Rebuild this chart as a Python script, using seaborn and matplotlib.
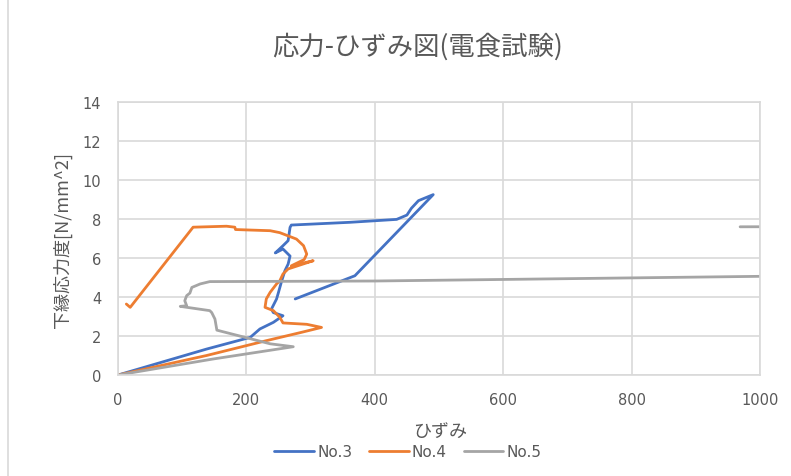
import matplotlib
matplotlib.use("Agg")
import matplotlib.pyplot as plt
from matplotlib.lines import Line2D
import pandas as pd
import seaborn as sns

# Stress-strain data for the three electrolytic corrosion specimens
series_names = ["No.3", "No.4", "No.5"]
series_colors = ["#4472C4", "#ED7D31", "#A5A5A5"]

no3_strain = [0, 138, 206, 221, 242, 257, 242, 239, 247, 250, 255, 260, 265, 268,
              257, 245, 257, 265, 268, 270, 361, 434, 450, 457, 468, 491, 369, 276]
no3_stress = [0, 1.33, 1.93, 2.36, 2.70, 3.04, 3.20, 3.38, 3.90, 4.24, 4.83, 5.35, 5.69, 6.10,
              6.46, 6.26, 6.63, 6.89, 7.57, 7.69, 7.83, 7.98, 8.20, 8.55, 8.94, 9.25, 5.09, 3.90]

no4_strain = [0, 138, 231, 286, 317, 294, 257, 252, 242, 229, 231, 237, 247, 252, 257, 265,
              304, 270, 290, 294, 289, 278, 252, 237, 200, 183, 182, 169, 117, 19, 13]
no4_stress = [0, 1.00, 1.76, 2.19, 2.44, 2.60, 2.67, 2.96, 3.30, 3.47, 3.90, 4.24, 4.67, 4.83, 5.18, 5.44,
              5.86, 5.60, 5.92, 6.20, 6.63, 6.97, 7.30, 7.40, 7.44, 7.46, 7.58, 7.63, 7.58, 3.47, 3.64]

no5_strain = [0, 148, 273, 237, 154, 151, 146, 143, 97, 107, 104, 107, 112, 115, 128, 143,
              400, 750, 1000, 1150, 1180, 969]
no5_stress = [0, 0.82, 1.45, 1.60, 2.30, 2.87, 3.20, 3.30, 3.52, 3.55, 3.81, 4.07, 4.20, 4.49, 4.67, 4.79,
              4.82, 4.96, 5.06, 5.12, 7.62, 7.60]

x_ticks = [0, 200, 400, 600, 800, 1000]
y_ticks = [0, 2, 4, 6, 8, 10, 12, 14]

title_text = "応力-ひずみ図(電食試験)"
x_label = "ひずみ"
y_label = "下縁応力度[N/mm^2]"

frames = []
for name, xs, ys in zip(series_names,
                        [no3_strain, no4_strain, no5_strain],
                        [no3_stress, no4_stress, no5_stress]):
    frames.append(pd.DataFrame({"strain": xs, "stress": ys, "series": name,
                                "step": range(len(xs))}))
df = pd.concat(frames, ignore_index=True)

sns.set_theme(style="white")
plt.rcParams["font.family"] = ["DejaVu Sans", "Noto Sans CJK JP"]

text_color = "#595959"
grid_color = "#D9D9D9"

fig = plt.figure(figsize=(7.91, 4.77), dpi=100)
fig.patch.set_facecolor("white")
ax = fig.add_axes([118 / 791, 1 - 376 / 477, (760 - 118) / 791, (376 - 103) / 477])
ax.set_facecolor("white")

sns.lineplot(data=df, x="strain", y="stress", hue="series", units="series",
             estimator=None, sort=False, palette=dict(zip(series_names, series_colors)),
             linewidth=2.0, ax=ax, legend=False)

ax.set_xlim(0, 1000)
ax.set_ylim(0, 14)
ax.set_xticks(x_ticks)
ax.set_yticks(y_ticks)
ax.set_xticklabels([str(v) for v in x_ticks])
ax.set_yticklabels([str(v) for v in y_ticks])
ax.tick_params(axis="both", length=0, labelsize=10.5, labelcolor=text_color)
ax.tick_params(axis="x", pad=12)
ax.tick_params(axis="y", pad=12)
ax.grid(True, color=grid_color, linewidth=1.2)
ax.set_axisbelow(True)
for side in ["left", "right", "top", "bottom"]:
    ax.spines[side].set_visible(True)
    ax.spines[side].set_color(grid_color)
    ax.spines[side].set_linewidth(1.2)

ax.set_xlabel("")
ax.set_ylabel("")

fig.text(418 / 791, 1 - 47 / 477, title_text, ha="center", va="center",
         fontsize=19, color=text_color, family=["Noto Sans CJK JP", "DejaVu Sans"])
fig.text(440 / 791, 1 - 432 / 477, x_label, ha="center", va="center",
         fontsize=13, color=text_color, family=["Noto Sans CJK JP", "DejaVu Sans"])
fig.text(62 / 791, 1 - 240 / 477, y_label, ha="center", va="center", rotation=90,
         fontsize=13, color=text_color, family=["Noto Sans CJK JP", "DejaVu Sans"])

handles = [Line2D([0], [0], color=c, linewidth=2.0) for c in series_colors]
fig.legend(handles, series_names, loc="center", ncol=3, frameon=False,
           bbox_to_anchor=(408 / 791, 1 - 453 / 477), fontsize=11,
           handlelength=2.6, handletextpad=0.2, columnspacing=1.1,
           labelcolor=text_color)

fig.add_artist(Line2D([8 / 791, 8 / 791], [0, 1], transform=fig.transFigure,
                      color=grid_color, linewidth=1.2))

fig.savefig("out.png", dpi=100, facecolor="white")
